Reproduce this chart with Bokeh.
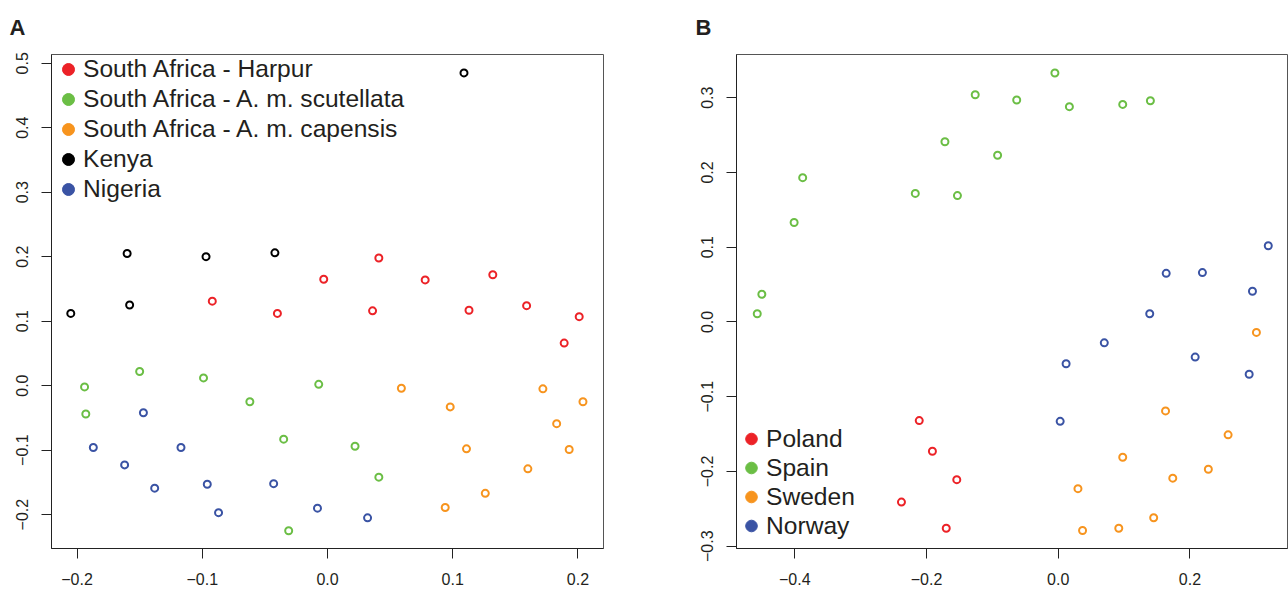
from bokeh.plotting import figure
from bokeh.layouts import row
from bokeh.models import (Range1d, FixedTicker, CustomJSTickFormatter, Legend, LegendItem)
from bokeh.embed import file_html
from bokeh.resources import INLINE

# ---------------- Panel A data ----------------
a_groups = ["South Africa - Harpur", "South Africa - A. m. scutellata",
            "South Africa - A. m. capensis", "Kenya", "Nigeria"]
harpur_x = [-0.092, -0.040, -0.003, 0.041, 0.036, 0.078, 0.132, 0.113, 0.159, 0.201, 0.189]
harpur_y = [0.131, 0.112, 0.165, 0.198, 0.116, 0.164, 0.172, 0.117, 0.124, 0.107, 0.066]
scut_x = [-0.194, -0.193, -0.150, -0.099, -0.062, -0.035, -0.031, -0.007, 0.022, 0.041]
scut_y = [-0.002, -0.044, 0.022, 0.012, -0.025, -0.083, -0.225, 0.002, -0.094, -0.142]
cap_x = [0.059, 0.098, 0.172, 0.204, 0.183, 0.111, 0.193, 0.160, 0.126, 0.094]
cap_y = [-0.004, -0.033, -0.005, -0.025, -0.059, -0.098, -0.099, -0.129, -0.167, -0.189]
kenya_x = [-0.205, -0.160, -0.158, -0.097, -0.042, 0.109]
kenya_y = [0.112, 0.205, 0.125, 0.200, 0.206, 0.485]
nig_x = [-0.187, -0.162, -0.147, -0.138, -0.117, -0.096, -0.087, -0.043, -0.008, 0.032]
nig_y = [-0.096, -0.123, -0.042, -0.159, -0.096, -0.153, -0.197, -0.152, -0.190, -0.205]
a_xticks = [-0.2, -0.1, 0.0, 0.1, 0.2]
a_yticks = [-0.2, -0.1, 0.0, 0.1, 0.2, 0.3, 0.4, 0.5]

# ---------------- Panel B data ----------------
b_groups = ["Poland", "Spain", "Sweden", "Norway"]
poland_x = [-0.211, -0.191, -0.154, -0.238, -0.170]
poland_y = [-0.132, -0.173, -0.211, -0.241, -0.276]
spain_x = [-0.457, -0.450, -0.401, -0.388, -0.217, -0.172, -0.153, -0.126, -0.092, -0.063, -0.005, 0.017, 0.098, 0.140]
spain_y = [0.011, 0.037, 0.133, 0.193, 0.172, 0.241, 0.169, 0.304, 0.223, 0.297, 0.333, 0.288, 0.291, 0.296]
sweden_x = [0.301, 0.163, 0.258, 0.098, 0.228, 0.174, 0.030, 0.145, 0.092, 0.037]
sweden_y = [-0.014, -0.119, -0.151, -0.181, -0.197, -0.209, -0.223, -0.262, -0.276, -0.279]
norway_x = [0.319, 0.164, 0.219, 0.295, 0.139, 0.070, 0.012, 0.208, 0.290, 0.003]
norway_y = [0.102, 0.065, 0.066, 0.041, 0.011, -0.028, -0.056, -0.047, -0.070, -0.133]
b_xticks = [-0.4, -0.2, 0.0, 0.2]
b_yticks = [-0.3, -0.2, -0.1, 0.0, 0.1, 0.2, 0.3]

RED, GREEN, ORANGE, BLACK, BLUE = "#EC2227", "#6BBE45", "#F7941E", "#000000", "#3A53A4"
FONT = "Liberation Sans"

fmt = CustomJSTickFormatter(code="return tick.toFixed(1).replace('-', '\\u2212');")


def make_fig(width, xr, yr, xticks, yticks, letter, bl, br, title_offset):
    p = figure(width=width, height=590, output_backend="svg", toolbar_location=None,
               x_range=Range1d(*xr), y_range=Range1d(*yr),
               min_border_left=bl, min_border_right=br, min_border_top=54,
               min_border_bottom=42, background_fill_color="white",
               border_fill_color="white")
    p.grid.visible = False
    p.outline_line_color = "#555555"
    p.outline_line_width = 1
    p.title.text = letter
    p.title.text_font = FONT
    p.title.text_font_size = "22px"
    p.title.text_font_style = "bold"
    p.title.text_color = "#231F20"
    p.title.align = "left"
    p.title.vertical_align = "top"
    p.title.offset = title_offset
    p.title.standoff = 26
    for ax, ticks in ((p.xaxis[0], xticks), (p.yaxis[0], yticks)):
        ax.ticker = FixedTicker(ticks=ticks)
        ax.formatter = fmt
        ax.minor_tick_line_color = None
        ax.major_tick_in = 0
        ax.major_tick_out = 10
        ax.axis_line_color = "#222222"
        ax.major_tick_line_color = "#222222"
        ax.major_label_text_font = FONT
        ax.major_label_text_font_size = "16px"
        ax.major_label_text_color = "#231F20"
    p.xaxis.major_label_standoff = 14
    p.yaxis.major_label_standoff = 13
    p.yaxis.major_label_orientation = "vertical"
    return p


pa = make_fig(680, (-0.2204, 0.2204), (-0.2526, 0.5136), a_xticks, a_yticks, "A", 51, 77, -42)
pb = make_fig(608, (-0.4885, 0.3482), (-0.3031, 0.3578), b_xticks, b_yticks, "B", 56, 1, -41)

SZ, LW = 7, 2
a_series = [(harpur_x, harpur_y, RED), (scut_x, scut_y, GREEN), (cap_x, cap_y, ORANGE),
            (kenya_x, kenya_y, BLACK), (nig_x, nig_y, BLUE)]
b_series = [(poland_x, poland_y, RED), (spain_x, spain_y, GREEN),
            (sweden_x, sweden_y, ORANGE), (norway_x, norway_y, BLUE)]


def add_points(p, series, names, loc, gh):
    items = []
    for (xs, ys, c), name in zip(series, names):
        p.scatter(xs, ys, marker="circle", size=SZ, line_width=LW, line_color=c,
                  fill_color=None)
        # filled-dot key, hidden in the plot, only drawn in the legend
        key = p.scatter(xs, ys, marker="circle", size=12, line_color=c, fill_color=c,
                        visible=False)
        items.append(LegendItem(label=name, renderers=[key]))
    leg = Legend(items=items, location=loc, padding=0, margin=0, spacing=0,
                 glyph_width=30, glyph_height=gh, label_height=gh, label_standoff=0,
                 label_text_font=FONT, label_text_font_size="24.6px",
                 label_text_color="#231F20", background_fill_alpha=0,
                 border_line_color=None, inactive_fill_alpha=0)
    p.add_layout(leg)


add_points(pa, a_series, a_groups, (2, 344), 30)
add_points(pb, b_series, b_groups, (0, 8), 29)

layout = row(pa, pb)
open("out.html", "w").write(file_html(layout, INLINE))
